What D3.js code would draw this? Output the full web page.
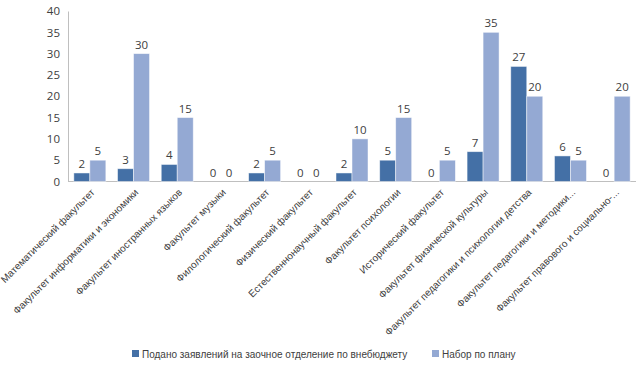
<!DOCTYPE html>
<html>
<head>
<meta charset="utf-8">
<script src="https://cdn.jsdelivr.net/npm/d3@7"></script>
<style>
  body { margin: 0; background: #fff; }
  text { font-family: "Liberation Sans", Arial, sans-serif; fill: #404040; }
</style>
</head>
<body>
<div class="container"></div>
<script>
// data
const faculties = [
    "Математический факультет",
    "Факультет информатики и экономики",
    "Факультет иностранных языков",
    "Факультет музыки",
    "Филологический факультет",
    "Физический факультет",
    "Естественнонаучный факультет",
    "Факультет психологии",
    "Исторический факультет",
    "Факультет физической культуры",
    "Факультет педагогики и психологии детства",
    "Факультет педагогики и методики...",
    "Факультет правового и социально-..."
];
const applied = [2, 3, 4, 0, 2, 0, 2, 5, 0, 7, 27, 6, 0];
const plan = [5, 30, 15, 0, 5, 0, 10, 15, 5, 35, 20, 5, 20];
const seriesNames = ["Подано заявлений на заочное отделение по внебюджету", "Набор по плану"];
const yTicks = [0, 5, 10, 15, 20, 25, 30, 35, 40];

const colors = ["#4470a6", "#94a9d3"];

const width = 640, height = 365;
const margin = {top: 11, right: 4, bottom: 183.5, left: 68};
const plotW = width - margin.left - margin.right,
    plotH = height - margin.top - margin.bottom;

let svg = d3.select('.container')
    .append('svg')
    .attr('width', width)
    .attr('height', height);

let g = svg.append('g')
    .attr('transform', 'translate(' + margin.left + ',' + margin.top + ')');

let xScale = d3.scaleBand().domain(faculties).range([0, plotW]).padding(0);
let yScale = d3.scaleLinear().domain([0, 40]).range([plotH, 0]);
const barW = 16;

// y axis
let yAxis = d3.axisLeft(yScale).tickValues(yTicks).tickSize(0).tickPadding(8);
let yG = g.append('g').call(yAxis);
yG.select('.domain').attr('stroke', '#bfbfbf');
yG.selectAll('text').style('font-size', '11.5px').style('font-family', '"Open Sans", sans-serif').attr('fill', '#404040');

// baseline
g.append('line')
    .attr('x1', 0).attr('x2', plotW)
    .attr('y1', yScale(0)).attr('y2', yScale(0))
    .attr('stroke', '#bfbfbf');

// bars
[applied, plan].forEach((vals, s) => {
    let grp = g.append('g');
    grp.selectAll('rect')
        .data(vals)
        .enter().append('rect')
        .attr('x', (d, i) => xScale(faculties[i]) + xScale.bandwidth() / 2 - barW + s * barW)
        .attr('y', d => yScale(d))
        .attr('width', barW)
        .attr('height', d => yScale(0) - yScale(d))
        .attr('fill', colors[s])
        .attr('stroke', 'rgba(255,255,255,0.6)')
        .attr('stroke-width', 0.8);
    grp.selectAll('text')
        .data(vals)
        .enter().append('text')
        .attr('x', (d, i) => xScale(faculties[i]) + xScale.bandwidth() / 2 - barW / 2 + s * barW)
        .attr('y', d => yScale(d) - 5)
        .attr('text-anchor', 'middle')
        .style('font-size', '11.5px')
        .style('font-family', '"Open Sans", sans-serif')
        .text(d => d);
});

// category labels
g.append('g')
    .selectAll('text')
    .data(faculties)
    .enter().append('text')
    .attr('transform', d => 'translate(' + (xScale(d) + xScale.bandwidth() / 2 + 3) + ',' + (plotH + 9) + ') rotate(-45)')
    .attr('text-anchor', 'end')
    .attr('dy', '0.35em')
    .style('font-size', '10px')
    .text(d => d);

// legend
const legendX = [132, 432];
let legend = svg.append('g');
seriesNames.forEach((name, i) => {
    legend.append('rect')
        .attr('x', legendX[i]).attr('y', 350)
        .attr('width', 7).attr('height', 7)
        .attr('fill', colors[i]);
    legend.append('text')
        .attr('x', legendX[i] + 10).attr('y', 357.5)
        .style('font-size', '10px')
        .text(name);
});
</script>
</body>
</html>
